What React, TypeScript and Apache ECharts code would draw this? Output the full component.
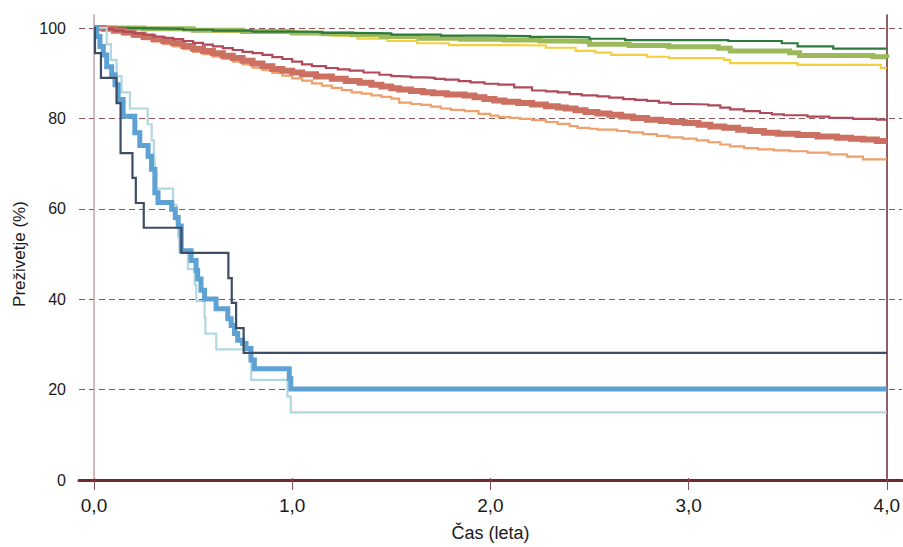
import React, { useEffect, useRef } from "react";
import * as echarts from "echarts";

// Tick labels
const xTicks = [0, 1, 2, 3, 4];
const yTicks = [0, 20, 40, 60, 80, 100];

// Survival curves (time in years, survival %)
const navyT = [0, 0.005, 0.035, 0.114, 0.134, 0.194, 0.211, 0.251, 0.441, 0.678, 0.695, 0.717, 0.755, 4.0];
const navyS = [100, 94.4, 88.9, 83.3, 72.2, 66.7, 61.1, 55.6, 50.0, 44.4, 38.9, 33.3, 27.8, 27.8];

const lightBlueT = [0, 0.064, 0.085, 0.114, 0.139, 0.181, 0.271, 0.291, 0.302, 0.306, 0.315, 0.399, 0.416, 0.424, 0.441, 0.474, 0.508, 0.516, 0.558, 0.562, 0.617, 0.793, 0.976, 0.993, 4.0];
const lightBlueS = [100, 96.4, 92.9, 89.3, 85.7, 82.1, 78.6, 75.0, 71.4, 67.9, 64.3, 60.7, 57.1, 53.6, 50.0, 46.4, 42.9, 39.3, 35.7, 32.1, 28.6, 21.8, 18.1, 14.6, 14.6];

const blueT = [0, 0.014, 0.030, 0.047, 0.064, 0.089, 0.106, 0.122, 0.147, 0.206, 0.231, 0.273, 0.290, 0.307, 0.323, 0.392, 0.410, 0.425, 0.440, 0.490, 0.515, 0.523, 0.540, 0.558, 0.616, 0.675, 0.692, 0.709, 0.725, 0.750, 0.767, 0.792, 0.809, 0.985, 0.993, 4.0];
const blueS = [100, 98.1, 95.9, 94.0, 91.4, 89.6, 87.4, 84.1, 80.4, 76.7, 73.9, 71.5, 68.6, 63.4, 61.2, 59.7, 57.9, 56.0, 50.5, 48.3, 46.1, 44.2, 41.7, 39.8, 37.6, 35.4, 33.9, 32.1, 30.6, 29.9, 28.8, 26.2, 24.3, 22.1, 19.8, 19.8];

const greenT = [0, 0.15, 0.3, 0.45, 0.6, 0.8, 1.0, 1.15, 1.3, 1.5, 1.75, 2.0, 2.2, 2.4, 2.5, 2.68, 3.2, 3.47, 3.55, 3.73, 4.0];
const greenS = [100, 99.9, 99.8, 99.6, 99.4, 99.2, 99.1, 98.9, 98.8, 98.5, 98.3, 98.2, 98.0, 97.9, 97.6, 97.3, 97.1, 96.6, 95.9, 95.4, 95.4];

const lightGreenT = [0, 0.25, 0.5, 0.75, 1.0, 1.15, 1.3, 1.45, 1.64, 1.85, 2.07, 2.25, 2.4, 2.5, 2.7, 2.9, 3.15, 3.21, 3.51, 3.56, 3.93, 4.0];
const lightGreenS = [100, 99.8, 99.5, 99.2, 98.9, 98.7, 98.5, 98.1, 97.7, 97.5, 97.3, 97.1, 97.0, 96.4, 96.1, 95.8, 95.5, 94.9, 94.5, 93.9, 93.6, 93.3];

const yellowT = [0, 0.15, 0.3, 0.45, 0.6, 0.8, 1.0, 1.2, 1.33, 1.48, 1.63, 1.79, 2.11, 2.28, 2.43, 2.53, 2.61, 2.79, 2.9, 3.18, 3.21, 3.55, 3.97, 4.0];
const yellowS = [100, 99.8, 99.6, 99.4, 99.1, 98.9, 98.7, 98.3, 97.6, 97.1, 96.6, 96.2, 96.1, 95.6, 94.9, 94.5, 94.0, 93.6, 93.3, 92.9, 92.2, 91.8, 91.1, 91.1];

const maroonT = [0, 0.05, 0.1, 0.15, 0.2, 0.25, 0.3, 0.35, 0.4, 0.45, 0.5, 0.55, 0.6, 0.65, 0.7, 0.75, 0.8, 0.85, 0.9, 0.95, 1.0, 1.05, 1.1, 1.17, 1.23, 1.29, 1.36, 1.44, 1.5, 1.54, 1.6, 1.67, 1.72, 1.77, 1.84, 1.9, 1.97, 2.04, 2.12, 2.21, 2.28, 2.34, 2.4, 2.46, 2.54, 2.6, 2.67, 2.73, 2.79, 2.85, 2.91, 3.0, 3.1, 3.16, 3.21, 3.28, 3.36, 3.42, 3.48, 3.6, 3.71, 3.83, 3.95, 4.0];
const maroonS = [100, 99.8, 99.4, 99.1, 98.8, 98.5, 98.1, 97.8, 97.5, 97.1, 96.7, 96.3, 95.9, 95.5, 95.1, 94.7, 94.4, 94.0, 93.5, 93.1, 92.5, 91.9, 91.5, 91.1, 90.8, 90.5, 90.1, 89.6, 89.3, 89.2, 89.0, 88.9, 88.7, 88.5, 88.2, 87.9, 87.6, 87.4, 86.8, 86.1, 85.9, 85.7, 85.3, 85.0, 84.8, 84.5, 84.2, 84.0, 83.8, 83.4, 83.1, 83.0, 82.8, 82.3, 81.9, 81.5, 81.1, 80.8, 80.6, 80.3, 80.0, 79.8, 79.6, 79.6];

const salmonT = [0, 0.05, 0.1, 0.15, 0.2, 0.25, 0.3, 0.35, 0.4, 0.45, 0.5, 0.55, 0.6, 0.65, 0.7, 0.75, 0.8, 0.85, 0.9, 0.95, 1.0, 1.05, 1.12, 1.2, 1.27, 1.34, 1.4, 1.45, 1.5, 1.54, 1.6, 1.66, 1.71, 1.78, 1.87, 1.92, 1.97, 2.02, 2.07, 2.14, 2.21, 2.28, 2.34, 2.38, 2.43, 2.48, 2.54, 2.6, 2.66, 2.72, 2.79, 2.86, 2.92, 2.98, 3.05, 3.11, 3.18, 3.25, 3.31, 3.38, 3.45, 3.55, 3.65, 3.75, 3.82, 3.88, 3.95, 4.0];
const salmonS = [100, 99.8, 99.4, 99.0, 98.5, 98.0, 97.5, 97.1, 96.6, 96.0, 95.4, 94.9, 94.4, 93.8, 93.3, 92.7, 92.1, 91.5, 90.9, 90.5, 90.1, 89.7, 89.2, 88.7, 88.2, 87.8, 87.4, 87.0, 86.6, 86.3, 86.0, 85.7, 85.5, 85.2, 85.0, 84.6, 84.2, 83.9, 83.6, 83.3, 83.0, 82.6, 82.3, 82.1, 81.7, 81.3, 81.0, 80.7, 80.3, 80.0, 79.6, 79.3, 79.1, 78.9, 78.5, 78.1, 77.8, 77.4, 77.1, 76.7, 76.5, 76.2, 75.9, 75.6, 75.4, 75.2, 74.9, 74.8];

const orangeT = [0, 0.05, 0.1, 0.15, 0.2, 0.25, 0.3, 0.35, 0.4, 0.45, 0.5, 0.55, 0.6, 0.65, 0.7, 0.75, 0.8, 0.85, 0.9, 0.95, 1.0, 1.05, 1.1, 1.15, 1.2, 1.25, 1.3, 1.35, 1.4, 1.45, 1.5, 1.54, 1.6, 1.65, 1.7, 1.75, 1.8, 1.87, 1.94, 2.0, 2.04, 2.1, 2.15, 2.21, 2.28, 2.34, 2.4, 2.44, 2.5, 2.54, 2.64, 2.7, 2.77, 2.84, 2.9, 2.97, 3.04, 3.1, 3.16, 3.21, 3.28, 3.35, 3.43, 3.51, 3.6, 3.71, 3.8, 3.88, 4.0];
const orangeS = [100, 99.7, 99.2, 98.6, 98.0, 97.5, 97.0, 96.4, 95.9, 95.3, 94.7, 94.2, 93.6, 93.1, 92.5, 91.9, 91.2, 90.6, 90.0, 89.4, 88.8, 88.3, 87.7, 87.2, 86.7, 86.2, 85.7, 85.4, 85.0, 84.7, 84.3, 83.4, 83.1, 82.9, 82.5, 82.1, 81.8, 81.5, 80.9, 80.5, 80.2, 80.0, 79.8, 79.5, 79.1, 78.7, 78.2, 77.8, 77.6, 77.4, 77.1, 76.8, 76.4, 76.0, 75.7, 75.4, 75.0, 74.6, 74.1, 73.7, 73.3, 73.0, 72.8, 72.6, 72.3, 71.9, 71.4, 70.8, 70.8];

const FONT = "'Liberation Sans', Arial, sans-serif";
const GRID_COLOR = "#8e5458";
const AXIS_DARK = "#6b2a30";
const TEXT = "#1a1a1a";

const pts = (t: number[], s: number[]) => t.map((x, i) => [x, s[i]]);

const curve = (name: string, t: number[], s: number[], color: string, width: number) => ({
  name,
  type: "line",
  xAxisIndex: 1,
  yAxisIndex: 1,
  step: "end",
  showSymbol: false,
  symbol: "none",
  data: pts(t, s),
  lineStyle: { color, width, cap: "butt", join: "miter" },
  itemStyle: { color },
  clip: false,
});

export default function App() {
  const ref = useRef<HTMLDivElement>(null);
  useEffect(() => {
    if (!ref.current) return;
    const chart = echarts.init(ref.current, null, { renderer: "svg" });
    const yMax1 = 100 + 13 / 4.52;
    chart.setOption({
      animation: false,
      backgroundColor: "#ffffff",
      textStyle: { fontFamily: FONT },
      grid: [
        { left: 79, right: 1, top: 28, bottom: 67 },
        { left: 94, right: 13, top: 15, bottom: 67 },
      ],
      xAxis: [
        {
          gridIndex: 0,
          type: "value",
          min: 0,
          max: 1,
          axisLine: { show: true, lineStyle: { color: AXIS_DARK, width: 3 } },
          axisTick: { show: false },
          axisLabel: { show: false },
          splitLine: { show: false },
        },
        {
          gridIndex: 1,
          type: "value",
          min: xTicks[0],
          max: xTicks[xTicks.length - 1],
          interval: 1,
          name: "Čas (leta)",
          nameLocation: "middle",
          nameGap: 46,
          nameTextStyle: { fontFamily: FONT, fontSize: 18, color: TEXT },
          axisLine: { show: false },
          axisTick: { show: true, length: 12, lineStyle: { color: "#8a4d55", width: 1 } },
          axisLabel: {
            margin: 18,
            fontFamily: FONT,
            fontSize: 19,
            color: TEXT,
            formatter: (v: number) => v.toFixed(1).replace(".", ","),
          },
          splitLine: { show: false },
        },
      ],
      yAxis: [
        {
          gridIndex: 0,
          type: "value",
          min: yTicks[0],
          max: yTicks[yTicks.length - 1],
          interval: 20,
          name: "Preživetje (%)",
          nameLocation: "middle",
          nameGap: 50,
          nameTextStyle: { fontFamily: FONT, fontSize: 17, color: TEXT },
          axisLine: { show: false },
          axisTick: { show: false },
          axisLabel: { margin: 13, fontFamily: FONT, fontSize: 16, color: TEXT },
          splitLine: {
            show: true,
            lineStyle: {
              color: ["rgba(0,0,0,0)", GRID_COLOR, GRID_COLOR, GRID_COLOR, GRID_COLOR, GRID_COLOR],
              type: [6, 4],
              width: 1,
            },
          },
        },
        {
          gridIndex: 1,
          type: "value",
          min: 0,
          max: yMax1,
          position: "left",
          axisLine: { show: true, lineStyle: { color: "#c4a3a6", width: 1.5 } },
          axisTick: { show: false },
          axisLabel: { show: false },
          splitLine: { show: false },
        },
        {
          gridIndex: 1,
          type: "value",
          min: 0,
          max: yMax1,
          position: "right",
          axisLine: { show: true, lineStyle: { color: AXIS_DARK, width: 1.5 } },
          axisTick: { show: false },
          axisLabel: { show: false },
          splitLine: { show: false },
        },
      ],
      series: [
        curve("yellow", yellowT, yellowS, "#f4d03f", 2.2),
        curve("lightgreen", lightGreenT, lightGreenS, "#9cb95c", 5),
        curve("green", greenT, greenS, "#2e7a3c", 2.2),
        curve("orange", orangeT, orangeS, "#f0a06c", 2.2),
        curve("salmon", salmonT, salmonS, "#cc7062", 6),
        curve("maroon", maroonT, maroonS, "#b04a5a", 2.2),
        curve("lightblue", lightBlueT, lightBlueS, "#b3d7e1", 2.2),
        curve("blue", blueT, blueS, "#5ea1d3", 5),
        curve("navy", navyT, navyS, "#3e4c65", 2.2),
      ],
    });
    return () => chart.dispose();
  }, []);
  return (
    <div
      ref={ref}
      style={{ position: "fixed", left: 0, top: 0, width: 903, height: 547 }}
    />
  );
}
